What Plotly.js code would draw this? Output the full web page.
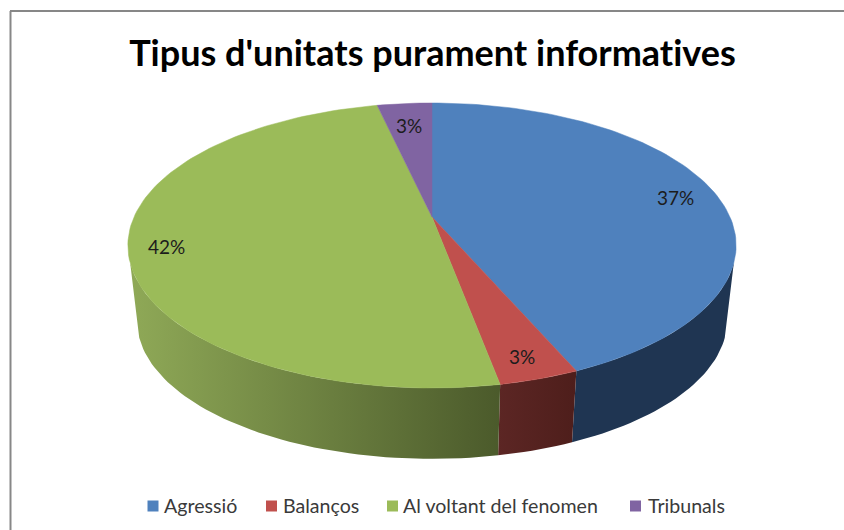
<!DOCTYPE html>
<html>
<head>
<meta charset="utf-8">
<script src="https://cdn.plot.ly/plotly-3.0.1.min.js"></script>
<style>html,body{margin:0;padding:0;background:#fff;overflow:hidden}#chart{width:844px;height:530px}
svg text{font-variant-ligatures:none;font-feature-settings:"liga" 0,"clig" 0}</style>
</head>
<body>
<div id="chart"></div>
<script>
const titleText = "Tipus d'unitats purament informatives";
const categories = ["Agressió", "Balanços", "Al voltant del fenomen", "Tribunals"];
const values = [37, 3, 42, 3];
const pctLabels = ["37%", "3%", "42%", "3%"];
const colors = ["#4f81bd", "#c0504d", "#9bbb59", "#8064a2"];
const wallColors = [["#1f3552", "#1f3552"], ["#5c2624", "#4e1e1b"], ["#8fa957", "#4b5a2b"], ["#4d3c62", "#4d3c62"]];
const labelPos = [[675, 197], [522, 356], [166, 246], [409, 125]];
const legendSwatchX = [153, 271.5, 392.5, 635.5];
const legendTextX = [162, 281, 401, 646];

// Perspective projection of the pie's unit circle onto the page
const APEX = [432, 217], K = 0.2, A = 136.8, B = 298;
const BOTTOM_SCALE = 0.97, BOTTOM_APEX_Y = 293;
const WALL_FROM = 108.4, WALL_TO = 251.6;

function project(deg, r) {
  const t = deg * Math.PI / 180, u = r * Math.sin(t), v = r * Math.cos(t), w = 1 + K * v;
  return [APEX[0] + B * u / w, APEX[1] - A * v / w];
}
function projectBottom(deg) {
  const p = project(deg, 1);
  return [APEX[0] + BOTTOM_SCALE * (p[0] - APEX[0]), BOTTOM_APEX_Y + BOTTOM_SCALE * (p[1] - APEX[1])];
}
function range(a, b) {
  const out = [], n = Math.max(2, Math.ceil(Math.abs(b - a) / 1.5));
  for (let i = 0; i <= n; i++) out.push(a + (b - a) * i / n);
  return out;
}

const total = values.reduce((s, x) => s + x, 0);
let acc = 0;
const spans = values.map(x => { const s = [acc, acc + x / total * 360]; acc = s[1]; return s; });

const walls = [], tops = [];
spans.forEach((s, i) => {
  const a = Math.max(s[0], WALL_FROM), b = Math.min(s[1], WALL_TO);
  if (b > a) {
    const arc = range(a, b);
    const upper = arc.map(d => project(d, 1));
    const lower = arc.slice().reverse().map(projectBottom);
    const pts = upper.concat(lower);
    const xs = pts.map(p => p[0]), ys = pts.map(p => p[1]);
    const x0 = Math.min(...xs), x1 = Math.max(...xs);
    walls.push({
      type: "scatter", mode: "lines", x: xs.concat(xs[0]), y: ys.concat(ys[0]),
      fill: "toself", line: { width: 0 },
      fillgradient: {
        type: "horizontal", start: x0, stop: x1,
        colorscale: [[0, wallColors[i][0]], [1, wallColors[i][1]]]
      },
      hoverinfo: "skip", showlegend: false
    });
  }
  const pts = [APEX].concat(range(s[0], s[1]).map(d => project(d, 1)));
  pts.push(APEX);
  tops.push({
    type: "scatter", mode: "lines", name: categories[i],
    x: pts.map(p => p[0]), y: pts.map(p => p[1]),
    fill: "toself", fillcolor: colors[i], line: { width: 0.5, color: colors[i] },
    hoverinfo: "name", showlegend: false
  });
});

const swatches = categories.map((c, i) => ({
  type: "scatter", mode: "markers", name: c, x: [legendSwatchX[i]], y: [506],
  marker: { symbol: "square", size: 11, color: colors[i] },
  hoverinfo: "skip", showlegend: false
}));

const annotations = pctLabels.map((t, i) => ({
  x: labelPos[i][0], y: labelPos[i][1], xref: "x", yref: "y", text: t, showarrow: false,
  xanchor: "center", yanchor: "middle", font: { family: "Lato", size: 19, color: "#1c1c1c" }
})).concat(categories.map((c, i) => ({
  x: legendTextX[i], y: 505, xref: "x", yref: "y", text: c, showarrow: false,
  xanchor: "left", yanchor: "middle", font: { family: "Lato", size: 19.6, color: "#3a3a3a" }
})));

const layout = {
  width: 844, height: 530, margin: { l: 0, r: 0, t: 0, b: 0 },
  paper_bgcolor: "#fff", plot_bgcolor: "#fff", showlegend: false,
  title: { text: "<b>" + titleText + "</b>", x: 432.5 / 844, xanchor: "center", y: 1 - 53 / 530, yanchor: "middle",
           font: { family: "Lato", size: 36, color: "#000" } },
  xaxis: { range: [0, 844], visible: false, fixedrange: true },
  yaxis: { range: [530, 0], visible: false, fixedrange: true },
  shapes: [
    { type: "line", xref: "x", yref: "y", x0: 10.5, x1: 10.5, y0: 11, y1: 530, line: { color: "#878787", width: 2 } },
    { type: "line", xref: "x", yref: "y", x0: 10, x1: 844, y0: 11, y1: 11, line: { color: "#878787", width: 2 } }
  ],
  annotations
};

Plotly.newPlot("chart", walls.concat(tops, swatches), layout, { displayModeBar: false, staticPlot: true });
</script>
</body>
</html>
